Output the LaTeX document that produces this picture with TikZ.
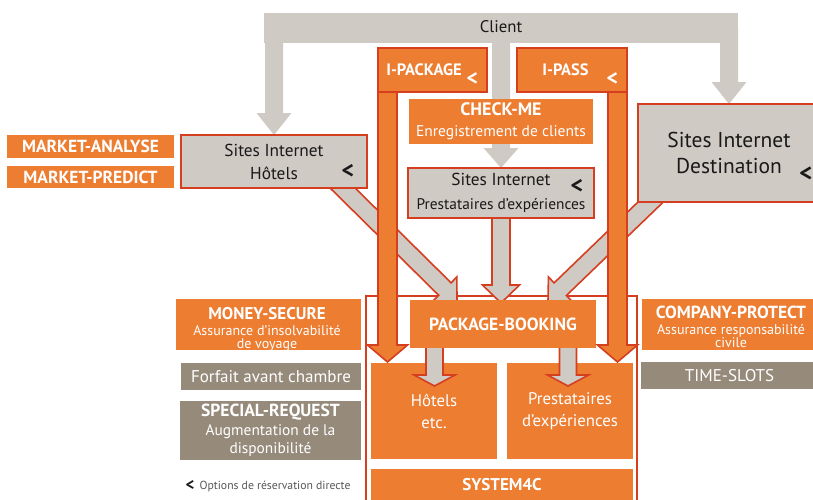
\documentclass[tikz,border=0pt]{standalone}
\usepackage{fontspec}
\setmainfont{PT Sans}
\usetikzlibrary{calc}
\definecolor{corange}{RGB}{237,125,49}
\definecolor{cred}{RGB}{214,62,32}
\definecolor{cgray}{RGB}{208,202,197}
\definecolor{cbrown}{RGB}{150,138,123}
\definecolor{ctext}{RGB}{25,25,25}
\definecolor{clegend}{RGB}{85,85,85}
\pgfdeclarelayer{l0}\pgfdeclarelayer{l1}\pgfdeclarelayer{l2}\pgfdeclarelayer{l3}
\pgfsetlayers{l0,l1,l2,main,l3}
% #1 style, #2 start, #3 tip, #4 shaft half width, #5 head half width, #6 head length
\newcommand{\blockarrow}[6][]{%
  \path[#1] let \p1=#2, \p2=#3, \n1={atan2(\y2-\y1,\x2-\x1)} in
    ($(\p1)+({\n1+90}:#4)$)
    -- ($(\p2)+({\n1+180}:#6)+({\n1+90}:#4)$)
    -- ($(\p2)+({\n1+180}:#6)+({\n1+90}:#5)$)
    -- (\p2)
    -- ($(\p2)+({\n1+180}:#6)+({\n1-90}:#5)$)
    -- ($(\p2)+({\n1+180}:#6)+({\n1-90}:#4)$)
    -- ($(\p1)+({\n1-90}:#4)$) -- cycle;}
\begin{document}
\begin{tikzpicture}[x=1pt,y=-1pt,
  box/.style={rectangle, inner sep=0pt, outer sep=0pt, align=center},
  obox/.style={box, fill=corange, text=white},
  orbox/.style={obox, draw=cred, line width=2pt},
  gbox/.style={box, fill=cgray, draw=cred, line width=2pt, text=ctext},
  bbox/.style={box, fill=cbrown, text=white},
  lbl/.style={inner sep=0pt, outer sep=0pt, align=center},
  ltb/.style={lbl, text=ctext, font=\bfseries\fontsize{24}{24}\selectfont},
  ltw/.style={lbl, text=white, font=\bfseries\fontsize{22}{22}\selectfont},
  garrow/.style={fill=cgray, draw=cred, line width=1.6pt, line join=miter},
  oarrow/.style={fill=corange, draw=cred, line width=1.6pt, line join=miter},
  leg/.style={fill=cgray},
]
\useasboundingbox (0,0) rectangle (813,499);

% ---------- lower system boxes
\begin{pgfonlayer}{l1}
\node[obox, minimum width=126pt, minimum height=96pt, font=\fontsize{16.8}{22}\selectfont] (hotels2) at (434,411) {Hôtels\\etc.};
\node[obox, minimum width=126pt, minimum height=96pt, font=\fontsize{16.8}{22}\selectfont] (prest2) at (570,411) {Prestataires\\d'expériences};
\node[obox, minimum width=262pt, minimum height=31pt, font=\bfseries\fontsize{17}{19}\selectfont] (sys) at (502,484.5) {SYSTEM4C};
\end{pgfonlayer}

% ---------- main boxes
\node[lbl, text=ctext, font=\fontsize{16.8}{18}\selectfont] (client) at (501,27) {Client};
\node[obox, minimum width=167pt, minimum height=23pt, font=\bfseries\fontsize{17.5}{19}\selectfont] (mktA) at (90.5,146.5) {MARKET-ANALYSE};
\node[obox, minimum width=167pt, minimum height=22pt, font=\bfseries\fontsize{17.5}{19}\selectfont] (mktP) at (90.5,177) {MARKET-PREDICT};
\node[gbox, minimum width=186pt, minimum height=53pt, font=\fontsize{17.3}{23}\selectfont] (hotelsweb) at (274,161.5) {Sites Internet\\Hôtels};
\node[ltb] (lt1) at (348,171) {<};
\node[gbox, minimum width=186pt, minimum height=50pt, font=\fontsize{15.4}{24}\selectfont] (prest) at (501,193) {{\fontsize{17.3}{24}\selectfont Sites Internet}\\Prestataires d'expériences};
\node[ltb] (lt2) at (577,186) {<};
\node[gbox, minimum width=182pt, minimum height=98pt, font=\fontsize{21.5}{26}\selectfont] (dest) at (729,153) {Sites Internet\\Destination};
\node[ltb, font=\bfseries\fontsize{25}{25}\selectfont] (lt3) at (806,174) {<};
\node[obox, minimum width=184pt, minimum height=45pt, font=\fontsize{15.5}{21}\selectfont] (checkme) at (501,121) {{\bfseries\fontsize{18}{21}\selectfont CHECK-ME}\\Enregistrement de clients};
\node[obox, minimum width=186pt, minimum height=48pt, font=\bfseries\fontsize{17.6}{19}\selectfont] (pkg) at (503,324) {PACKAGE-BOOKING};
\node[obox, minimum width=185pt, minimum height=51pt] (money) at (268.5,324.5) {};
\node[lbl, text=white, font=\fontsize{14}{13}\selectfont] (moneyt) at (267,329) {{\bfseries\fontsize{17}{16}\selectfont MONEY-SECURE}\\[3pt]Assurance d'insolvabilité\\de voyage};
\node[bbox, minimum width=180pt, minimum height=27pt, font=\fontsize{17}{19}\selectfont] (forfait) at (271,376.5) {Forfait avant chambre};
\node[bbox, minimum width=181pt, minimum height=59pt, font=\fontsize{15.4}{18.5}\selectfont] (special) at (270.5,430.5) {{\bfseries\fontsize{17.5}{18.5}\selectfont SPECIAL-REQUEST}\\Augmentation de la\\disponibilité};
\node[obox, minimum width=176pt, minimum height=51pt] (company) at (730,324.5) {};
\node[lbl, text=white, font=\fontsize{14}{13}\selectfont] (companyt) at (731,327) {{\bfseries\fontsize{17.5}{16}\selectfont COMPANY-PROTECT}\\[2.5pt]Assurance responsabilité\\civile};
\node[bbox, minimum width=177pt, minimum height=27pt, font=\fontsize{17}{19}\selectfont] (timeslots) at (729.5,375.5) {TIME-SLOTS};
\node[ltb, font=\bfseries\fontsize{17}{17}\selectfont] (lt6) at (190,486) {<};
\node[lbl, text=clegend, font=\fontsize{11.7}{13}\selectfont] (legend) at (275,486) {Options de réservation directe};

% ---------- top product boxes
\begin{pgfonlayer}{l3}
\node[orbox, minimum width=109pt, minimum height=44pt] (ipackage) at (432.5,70) {};
\node[lbl, text=white, font=\bfseries\fontsize{16.5}{18}\selectfont] (ipackaget) at (424,70) {I-PACKAGE};
\node[ltw] (lt4) at (472.5,79) {<};
\node[orbox, minimum width=110pt, minimum height=44pt] (ipass) at (572,70) {};
\node[lbl, text=white, font=\bfseries\fontsize{16.5}{18}\selectfont] (ipasst) at (565.5,70) {I-PASS};
\node[ltw] (lt5) at (612.5,79) {<};
\end{pgfonlayer}

% ---------- client band and legs
\begin{pgfonlayer}{l0}
\fill[cgray] (264,13) rectangle (738,43);
\blockarrow[leg]{(hotelsweb.north |- client.center)}{(hotelsweb.north)}{9pt}{17.5pt}{22pt}
\blockarrow[leg]{(prest.north |- client.center)}{(prest.north)}{9pt}{17.5pt}{20pt}
\blockarrow[leg]{(dest.north |- client.center)}{(dest.north)}{9pt}{17.5pt}{22pt}
\draw[cred, line width=2pt] (366,520) -- (366,296) -- (637,296) -- (637,520);
\end{pgfonlayer}

% ---------- grey flows into PACKAGE-BOOKING and out of it
\begin{pgfonlayer}{l2}
\coordinate (dA1) at ($(hotelsweb.south)+(58.5,-10)$);
\coordinate (dA2) at ($(pkg.north)+(-46,1)$);
\coordinate (dB1) at ($(dest.south)+(-68,-10)$);
\coordinate (dB2) at ($(pkg.north)+(45,1)$);
\coordinate (dC1) at ($(prest.south)+(0,-4)$);
\coordinate (dC2) at ($(prest.south |- pkg.north)+(0,3)$);
\coordinate (hA) at ($(pkg.south)+(-68.5,-4)$);
\coordinate (hB) at ($(hotels2.north)+(0.5,23)$);
\coordinate (pA) at ($(pkg.south)+(65,-4)$);
\coordinate (pB) at ($(prest2.north)+(-2,23)$);
\blockarrow[garrow]{(dA1)}{(dA2)}{8.8pt}{17pt}{17pt}
\blockarrow[garrow]{(dB1)}{(dB2)}{8.8pt}{17pt}{17pt}
\blockarrow[garrow]{(dC1)}{(dC2)}{9pt}{18.5pt}{18pt}
\blockarrow[garrow]{(hA)}{(hB)}{8.5pt}{20.5pt}{11pt}
\blockarrow[garrow]{(pA)}{(pB)}{8.5pt}{20.5pt}{11pt}
\end{pgfonlayer}

% ---------- orange product bars
\coordinate (bk1) at ($(ipackage.south west)+(9.5,0)$);
\coordinate (bk2) at ($(hotels2.north west)+(16.5,-1)$);
\coordinate (bp1) at ($(ipass.south east)+(-9.5,0)$);
\coordinate (bp2) at ($(prest2.north east)+(-15.5,-1)$);
\blockarrow[oarrow]{(bk1)}{(bk2)}{9.5pt}{20pt}{17pt}
\blockarrow[oarrow]{(bp1)}{(bp2)}{9.5pt}{20pt}{17pt}
\end{tikzpicture}
\end{document}
